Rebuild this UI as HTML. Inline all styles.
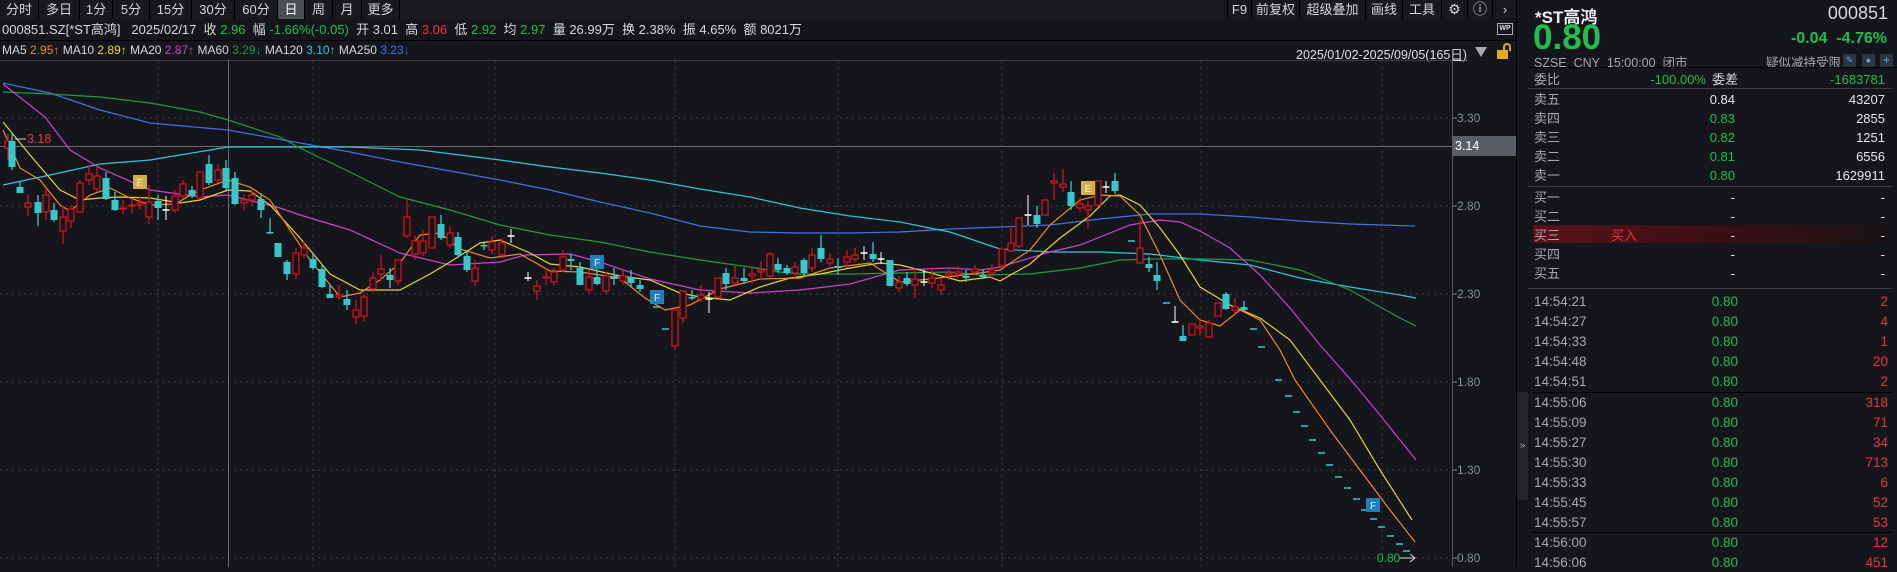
<!DOCTYPE html>
<html><head><meta charset="utf-8">
<style>
*{margin:0;padding:0;box-sizing:border-box}
body{width:1897px;height:567px;background:#14161b;overflow:hidden;position:relative;font-family:"Liberation Sans","Noto Sans CJK SC",sans-serif;color:#d4d4d4}
.a{position:absolute;white-space:nowrap}
.tab{position:absolute;top:0;height:19px;line-height:19px;font-size:13px;text-align:center;color:#d6d6d6;border-right:1px solid #000}
.g{color:#1fbf4f}.r{color:#f0333a}.gr{color:#a8a8a8}
.row{position:absolute;left:1534px;width:354px;height:19px;line-height:19px;font-size:13px}
.row .l{position:absolute;left:0;color:#a8a8a8}
.row .p{position:absolute;right:150px;text-align:right}
.row .v{position:absolute;right:0;text-align:right}
.ax{position:absolute;left:1457px;font-size:12px;color:#8a8f98}
</style></head><body>
<div class="a" style="left:0;top:0;width:1517px;height:19px;background:#17191e"></div>
<div class="tab" style="left:0;width:39px">分时</div>
<div class="tab" style="left:39px;width:41px">多日</div>
<div class="tab" style="left:80px;width:33px">1分</div>
<div class="tab" style="left:113px;width:37px">5分</div>
<div class="tab" style="left:150px;width:42px">15分</div>
<div class="tab" style="left:192px;width:43px">30分</div>
<div class="tab" style="left:235px;width:43px">60分</div>
<div class="tab" style="left:278px;width:27px;background:#4b4e56;color:#fff">日</div>
<div class="tab" style="left:305px;width:28px">周</div>
<div class="tab" style="left:333px;width:29px">月</div>
<div class="tab" style="left:362px;width:38px">更多</div>
<div class="tab" style="left:1227px;width:25px;border-left:1px solid #000">F9</div>
<div class="tab" style="left:1252px;width:48px">前复权</div>
<div class="tab" style="left:1300px;width:66px">超级叠加</div>
<div class="tab" style="left:1366px;width:37px">画线</div>
<div class="tab" style="left:1403px;width:39px">工具</div>
<div class="tab" style="left:1442px;width:26px;font-size:14px">⚙</div>
<div class="tab" style="left:1468px;width:25px;font-size:14px">ⓘ</div>
<div class="tab" style="left:1493px;width:24px;border-right:none">›</div>
<div class="a" style="left:0;top:40px;width:1517px;height:1px;background:#000"></div>

<div class="a" style="left:2px;top:21px;font-size:13px;line-height:18px;color:#d8d8d8">000851.SZ[*ST高鸿]&nbsp;&nbsp;&nbsp;2025/02/17&nbsp; 收 <span class="g">2.96</span>&nbsp; 幅 <span class="g">-1.66%(-0.05)</span>&nbsp; 开 3.01&nbsp; 高 <span class="r">3.06</span>&nbsp; 低 <span class="g">2.92</span>&nbsp; 均 <span class="g">2.97</span>&nbsp; 量 26.99万&nbsp; 换 2.38%&nbsp; 振 4.65%&nbsp; 额 8021万</div>
<div class="a" style="left:2px;top:42px;font-size:12px;line-height:16px;color:#d8d8d8">MA5 <span style="color:#f08a24">2.95↑</span> MA10 <span style="color:#e8d52c">2.89↑</span> MA20 <span style="color:#d040d0">2.87↑</span> MA60 <span style="color:#1f9a3e">3.29↓</span> MA120 <span style="color:#2cc6e0">3.10↑</span> MA250 <span style="color:#3f72e6">3.23↓</span></div>
<div class="a" style="left:1497px;top:23px;width:16px;height:12px;border:1px solid #aaa;font-size:7px;line-height:10px;text-align:center;color:#ddd;font-weight:bold">WP</div>
<div class="a" style="left:1296px;top:44px;font-size:12.5px;color:#e0e0e0;text-decoration:underline">2025/01/02-2025/09/05(165日)</div>
<div class="a" style="left:1475px;top:47px;width:0;height:0;border-left:6px solid transparent;border-right:6px solid transparent;border-top:10px solid #aaa"></div>
<div class="a" style="left:1497px;top:50px;width:11px;height:9px;background:#e5a81e"></div>
<div class="a" style="top:43px;width:8px;height:8px;border:2px solid #e5a81e;border-bottom:none;border-radius:4px 4px 0 0;left:1503px"></div>

<svg class="a" style="left:0;top:0" width="1517" height="567" id="ch"></svg>

<div class="ax" style="top:111px">3.30</div>
<div class="ax" style="top:199px">2.80</div>
<div class="ax" style="top:287px">2.30</div>
<div class="ax" style="top:375px">1.80</div>
<div class="ax" style="top:463px">1.30</div>
<div class="ax" style="top:551px">0.80</div>
<div class="a" style="left:1452px;top:136px;width:64px;height:20px;background:#5a5d66;color:#fff;font-size:12.5px;line-height:20px;padding-left:3px">3.14</div>
<div class="a" style="left:27px;top:132px;font-size:12.5px;color:#f0333a">3.18</div>
<div class="a" style="left:1377px;top:551px;font-size:12px;color:#1fbf4f">0.80</div>

<div class="a" style="left:1516px;top:0;width:1px;height:567px;background:#000"></div>
<div class="a" style="left:1517px;top:392px;width:11px;height:108px;background:#23252b;color:#aaa;font-size:10px;line-height:108px;text-align:center">»</div>
<div class="a" style="left:1535px;top:3px;font-size:17px;font-weight:bold;color:#eee">*ST高鸿</div>
<div class="a" style="right:9px;top:3px;font-size:18px;color:#d6d6d6">000851</div>
<div class="a" style="left:1533px;top:20px;font-size:35px;font-weight:bold;color:#1fbf4f;line-height:36px">0.80</div>
<div class="a" style="right:10px;top:30px;font-size:16px;font-weight:bold;color:#1fbf4f">-0.04&nbsp; -4.76%</div>
<div class="a" style="left:1534px;top:52px;font-size:12.5px;color:#a8a8a8">SZSE&nbsp; CNY&nbsp; 15:00:00&nbsp; 闭市</div>
<div class="a" style="left:1766px;top:52px;font-size:12.5px;color:#a8a8a8">疑似减持受限</div>
<div class="a" style="left:1843px;top:54px;width:13px;height:13px;background:#2b3642;color:#4fb0e8;font-size:9px;text-align:center;line-height:13px">✎</div>
<div class="a" style="left:1862px;top:54px;width:13px;height:13px;background:#2b3642;color:#4fb0e8;font-size:9px;text-align:center;line-height:13px">●</div>
<div class="a" style="left:1880px;top:54px;width:13px;height:13px;background:#2b3642;color:#4fb0e8;font-size:12px;text-align:center;line-height:13px">+</div>
<div class="a" style="left:1528px;top:67px;width:369px;height:1px;background:#000"></div>
<div class="a" style="left:1528px;top:88px;width:364px;height:1px;background:#3a3c42"></div>
<div class="a" style="left:1528px;top:186px;width:364px;height:1px;background:#3a3c42"></div>
<div class="a" style="left:1528px;top:288px;width:364px;height:1px;background:#3a3c42"></div>
<div class="a" style="left:1533px;top:225px;width:354px;height:18px;background:linear-gradient(90deg,#5a1118,#3a1016 50%,#1b1215)"></div>
<div class="a" style="left:1532px;top:392px;width:360px;height:1px;background:#000"></div>
<div class="a" style="left:1532px;top:532px;width:360px;height:1px;background:#000"></div>
<div id="rows"></div>

<script>
(function(){
var sv=document.getElementById('ch'),h='';
[118,206,294,382,470,558].forEach(function(y){h+='<line x1="0" x2="1452" y1="'+y+'" y2="'+y+'" stroke="#3a3d44" stroke-dasharray="2,4"/>';h+='<line x1="1452" x2="1457" y1="'+y+'" y2="'+y+'" stroke="#8a8f98"/>'});
[158,313,495,675,838,1002,1201,1382].forEach(function(x){h+='<line y1="61" y2="567" x1="'+x+'" x2="'+x+'" stroke="#3a3d44" stroke-dasharray="2,4"/>'});
h+='<line x1="0" x2="1452" y1="60.5" y2="60.5" stroke="#3a3c42"/>';
h+='<line x1="1452.5" x2="1452.5" y1="60" y2="567" stroke="#55585f"/>';
h+='<line x1="0" x2="1452" y1="146.5" y2="146.5" stroke="#6a6c72"/>';
h+='<line x1="228.5" x2="228.5" y1="60" y2="567" stroke="#6a6c72"/>';
function pl(pts,c){h+='<polyline fill="none" stroke="'+c+'" stroke-width="1.2" points="'+pts.map(function(p){return p.join(',')}).join(' ')+'"/>'}
pl([[3,83],[50,93],[100,110],[150,123],[228,130],[300,143],[350,152],[400,162],[500,180],[550,190],[600,202],[650,213],[700,226],[750,232],[800,233],[850,233],[900,232],[950,229],[1000,227],[1050,225],[1100,219],[1150,214],[1200,214],[1250,217],[1300,221],[1350,224],[1415,226]],'#3f72e6');
pl([[3,185],[50,175],[100,164],[150,160],[228,147],[280,147],[350,147],[420,150],[500,160],[550,167],[600,173],[650,180],[700,189],[750,197],[800,208],[850,216],[900,222],[950,232],[1000,249],[1050,252],[1100,252],[1150,254],[1200,260],[1250,265],[1300,278],[1350,287],[1400,295],[1416,298]],'#2cc6e0');
pl([[3,92],[50,94],[100,97],[150,103],[200,112],[228,120],[280,137],[300,148],[350,172],[400,197],[450,210],[500,225],[550,235],[600,242],[650,252],[700,260],[750,267],[780,272],[800,274],[850,274],[900,273],[950,272],[980,275],[1030,274],[1080,268],[1120,260],[1150,259],[1200,259],[1250,260],[1300,270],[1350,290],[1400,318],[1416,326]],'#1f9a3e');
pl([[3,84],[45,117],[70,150],[100,168],[150,190],[200,197],[228,195],[280,208],[300,215],[350,230],[400,253],[450,265],[500,262],[525,255],[570,254],[600,262],[650,279],[700,290],[750,293],[800,290],[850,284],[900,270],[950,268],[980,270],[1000,267],[1050,252],[1080,245],[1100,237],[1130,225],[1160,220],[1180,222],[1200,231],[1230,248],[1260,275],[1290,308],[1320,345],[1351,380],[1380,415],[1400,440],[1416,460]],'#d040d0');
pl([[3,122],[30,155],[60,190],[80,200],[100,198],[120,197],[150,198],[180,203],[200,200],[228,190],[250,191],[270,205],[300,238],[330,274],[360,290],[400,290],[430,274],[450,262],[480,243],[500,240],[530,253],[550,264],[580,267],[620,276],[650,280],[680,293],[700,297],[730,300],[760,287],[790,278],[820,274],[850,268],[880,263],[900,265],[920,270],[960,281],[990,277],[1000,281],[1030,264],[1060,238],[1090,216],[1110,196],[1120,195],[1140,205],[1160,228],[1180,255],[1200,287],[1230,305],[1260,318],[1290,340],[1320,380],[1350,420],[1380,470],[1412,520]],'#e8d52c');
pl([[3,130],[20,168],[40,180],[60,205],[70,211],[90,195],[110,188],[130,198],[150,205],[175,204],[200,190],[228,180],[250,187],[270,200],[290,230],[310,260],[340,297],[360,293],[380,280],[400,263],[420,235],[440,233],[460,249],[490,258],[520,254],[550,271],[580,272],[620,278],[645,298],[665,310],[690,305],[720,289],[760,279],[800,278],[830,268],[870,263],[900,282],[930,279],[980,273],[1000,270],[1030,250],[1050,225],[1080,200],[1100,195],[1120,196],[1140,215],[1160,255],[1180,300],[1200,320],[1220,326],[1240,310],[1260,320],[1280,350],[1295,380],[1330,430],[1360,470],[1390,510],[1415,542]],'#f08a24');
var C="8,141,148,r,133,160;12,141,167,c,132,170;20,187,193,c,182,193;28,203,207,r,195,216;38,202,213,c,195,226;46,195,212,r,188,220;54,210,220,c,203,222;63,217,231,r,206,244;71,209,221,r,205,228;80,183,212,r,180,212;89,174,180,r,165,185;97,176,189,r,167,192;106,178,199,c,172,200;115,200,210,c,192,211;123,208,209,r,200,214;132,205,206,r,198,213;140,203,205,r,196,209;149,202,217,r,185,224;158,201,208,c,195,220;166,210,211,w,196,220;175,196,210,r,190,213;183,184,196,r,180,199;192,190,196,c,186,198;200,172,198,r,172,198;209,164,183,c,155,185;218,170,180,r,164,183;226,168,188,c,160,192;235,178,204,c,172,205;244,200,203,r,194,210;252,195,200,r,190,206;261,199,210,c,193,218;270,232,233,c,218,234;278,243,257,c,243,257;287,262,274,c,260,280;296,253,274,r,248,279;304,248,255,r,241,258;313,259,268,c,254,270;322,269,287,c,264,288;330,294,298,c,285,298;339,295,297,r,285,300;347,299,305,c,290,310;356,310,317,r,300,324;364,297,316,r,294,321;373,278,289,r,272,292;381,269,274,r,255,281;390,275,280,c,268,288;398,260,281,r,260,285;407,217,236,r,200,238;415,241,254,r,235,260;423,241,253,r,230,256;432,217,248,r,217,248;441,224,238,c,215,240;450,233,245,r,226,248;458,237,255,c,232,257;467,256,270,c,250,272;475,268,281,r,260,286;484,245,246,c,243,250;492,242,250,r,236,254;502,243,255,r,238,258;511,236,237,w,229,243;528,278,279,w,272,281;537,286,291,r,280,300;546,277,278,r,268,285;554,272,282,r,268,285;563,257,270,r,250,272;571,259,261,c,254,270;580,268,285,c,262,285;589,277,290,r,270,294;597,277,284,c,268,285;606,276,291,r,272,294;614,276,279,c,268,285;623,276,281,r,270,285;631,277,283,c,270,287;640,285,289,c,280,292;656,307,308,d;665,329,330,d;675,310,346,r,310,350;683,291,318,r,290,323;692,297,298,c,290,300;701,295,299,r,285,302;709,299,300,w,292,313;718,278,297,r,278,297;726,273,284,c,268,290;735,278,283,r,266,285;744,278,281,c,268,284;752,274,276,r,266,284;761,270,272,r,261,280;770,254,276,r,252,278;778,264,270,c,258,273;787,268,273,c,265,275;795,267,273,r,262,278;804,260,273,c,258,276;812,255,268,r,248,272;821,248,259,c,235,262;830,259,263,r,253,266;838,266,268,c,258,275;847,257,262,r,250,268;855,255,259,r,248,262;864,253,254,w,246,260;873,254,259,c,242,262;881,259,260,w,252,264;890,260,286,c,260,286;899,282,288,r,276,292;907,278,284,c,272,286;915,279,285,r,268,298;924,282,283,w,270,286;932,278,283,r,270,288;941,285,290,r,278,295;949,273,275,r,268,280;958,272,274,r,266,278;966,276,278,c,270,282;975,269,272,r,265,275;983,275,277,c,270,279;992,270,273,r,264,276;1002,249,266,r,249,268;1011,243,251,r,226,252;1019,218,246,r,218,248;1028,215,216,w,195,225;1037,215,224,c,206,228;1045,200,215,r,200,215;1054,181,183,r,173,200;1063,184,187,r,169,192;1071,192,206,c,181,210;1080,204,208,r,198,212;1088,206,210,r,201,229;1098,181,205,r,181,205;1106,187,188,w,181,193;1115,181,191,c,173,194;1131,241,242,d;1140,248,263,r,220,263;1149,264,268,c,257,272;1157,275,281,c,262,290;1166,303,304,d;1175,322,323,w,306,323;1183,336,341,c,325,341;1192,324,335,r,324,335;1200,326,328,r,318,336;1209,323,337,r,320,338;1218,303,316,r,303,316;1226,294,309,c,292,310;1235,307,310,r,298,313;1244,307,310,c,301,312;1253,329,330,d;1261,347,348,d";
C.split(';').forEach(function(s){var a=s.split(','),x=+a[0],t=+a[1],b=+a[2],k=a[3],hi=+a[4],lo=+a[5];
 if(k=='d'){h+='<line x1="'+(x-3)+'" x2="'+(x+4)+'" y1="'+t+'" y2="'+t+'" stroke="#38c8cc" stroke-width="1.5"/>';return}
 if(k=='w'){h+='<line x1="'+x+'" x2="'+x+'" y1="'+hi+'" y2="'+lo+'" stroke="#fff"/><line x1="'+(x-3.5)+'" x2="'+(x+3.5)+'" y1="'+t+'" y2="'+t+'" stroke="#fff" stroke-width="1.5"/>';return}
 var col=k=='r'?'#d4101c':'#38c8cc';
 h+='<line x1="'+x+'" x2="'+x+'" y1="'+hi+'" y2="'+lo+'" stroke="'+col+'" stroke-width="1.3"/>';
 if(k=='r')h+='<rect x="'+(x-3)+'" y="'+t+'" width="6" height="'+Math.max(1,b-t)+'" fill="#14161b" stroke="'+col+'" stroke-width="1.3"/>';
 else h+='<rect x="'+(x-3.5)+'" y="'+t+'" width="7" height="'+Math.max(1.5,b-t)+'" fill="'+col+'"/>';
});
[[1278,380],[1288,396],[1296,412],[1304,426],[1312,440],[1321,453],[1329,465],[1338,477],[1347,488],[1356,499],[1364,510],[1373,519],[1381,527],[1390,536],[1399,544],[1406,551]].forEach(function(p){h+='<line x1="'+(p[0]-3)+'" x2="'+(p[0]+4)+'" y1="'+p[1]+'" y2="'+p[1]+'" stroke="#38c8cc" stroke-width="1.5"/>'});
h+='<line x1="1400" x2="1415" y1="558" y2="558" stroke="#ddd"/><polyline points="1410,554 1415,558 1410,562" fill="none" stroke="#ddd"/>';
h+='<line x1="15" x2="26" y1="139" y2="139" stroke="#ccc"/>';
function box(x,y,c,t){h+='<rect x="'+x+'" y="'+y+'" width="14" height="14" fill="'+c+'"/><text x="'+(x+7)+'" y="'+(y+11)+'" font-size="10" fill="#eee" text-anchor="middle" font-family="Liberation Sans">'+t+'</text>'}
box(133,175,'#d2b040','E');box(1081,181,'#d2b040','E');
box(590,255,'#1d7fc0','F');box(650,290,'#1d7fc0','F');box(1366,498,'#1d7fc0','F');
sv.innerHTML=h;
var R='',ob=[['委比','-100.00%','-1683781',80,'g','g'],['卖五','0.84','43207',100,'w','w'],['卖四','0.83','2855',119,'g','w'],['卖三','0.82','1251',138,'g','w'],['卖二','0.81','6556',157,'g','w'],['卖一','0.80','1629911',176,'g','w'],['买一','-','-',198,'w','w'],['买二','-','-',217,'w','w'],['买三','-','-',236,'w','w'],['买四','-','-',255,'w','w'],['买五','-','-',274,'w','w']];
function cl(c){return c=='g'?'#1fbf4f':c=='r'?'#f0333a':'#e6e6e6'}
ob.forEach(function(r,i){R+='<div class="row" style="top:'+(r[3]-10)+'px"><span class="l">'+r[0]+'</span>'+(i==0?'<span class="a" style="left:178px;color:#d6d6d6">委差</span><span class="p" style="right:182px;color:'+cl(r[4])+'">'+r[1]+'</span>':'<span class="p" style="right:153px;color:'+cl(r[4])+'">'+r[1]+'</span>')+'<span class="v" style="right:3px;color:'+cl(r[5])+'">'+r[2]+'</span>'+(i==8?'<span class="a" style="left:77px;color:#f0333a">买入</span>':'')+'</div>'});
var T=[['14:54:21',2,302],['14:54:27',4,322],['14:54:33',1,342],['14:54:48',20,362],['14:54:51',2,382],['14:55:06',318,403],['14:55:09',71,423],['14:55:27',34,443],['14:55:30',713,463],['14:55:33',6,483],['14:55:45',52,503],['14:55:57',53,523],['14:56:00',12,543],['14:56:06',451,563]];
T.forEach(function(r){R+='<div class="row" style="top:'+(r[2]-10)+'px;font-size:13.5px"><span class="l">'+r[0]+'</span><span class="p" style="right:150px;color:#1fbf4f">0.80</span><span class="v" style="color:#f0333a">'+r[1]+'</span></div>'});
document.getElementById('rows').innerHTML=R;
})();
</script>
</body></html>
